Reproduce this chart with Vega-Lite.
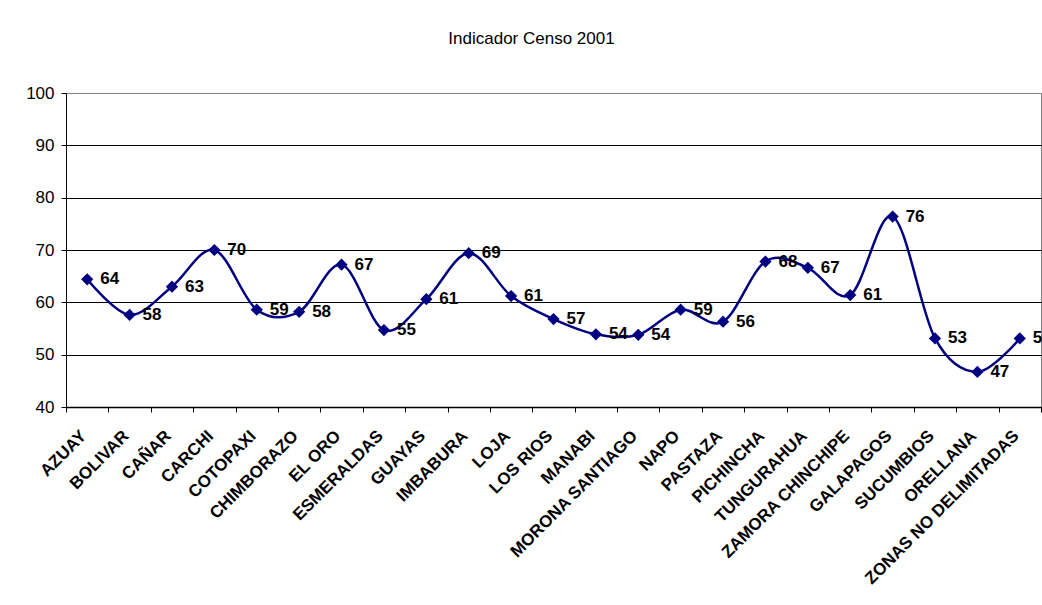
{
  "$schema": "https://vega.github.io/schema/vega-lite/v6.json",
  "width": 975,
  "height": 314,
  "autosize": {"type": "none"},
  "padding": {"left": 66, "top": 93, "right": 1, "bottom": 198},
  "background": "white",
  "config": {
    "font": "Liberation Sans",
    "view": {"stroke": "#808080", "strokeWidth": 1}
  },
  "title": {
    "text": "Indicador Censo 2001",
    "font": "Liberation Sans",
    "fontSize": 17,
    "fontWeight": "normal",
    "color": "black",
    "anchor": "middle",
    "frame": "group",
    "baseline": "alphabetic",
    "offset": 23,
    "dx": -22
  },
  "data": {
    "values": [
      {"provincia": "AZUAY", "indicador": 64.4},
      {"provincia": "BOLIVAR", "indicador": 57.6},
      {"provincia": "CAÑAR", "indicador": 63.0},
      {"provincia": "CARCHI", "indicador": 70.0},
      {"provincia": "COTOPAXI", "indicador": 58.6},
      {"provincia": "CHIMBORAZO", "indicador": 58.2},
      {"provincia": "EL ORO", "indicador": 67.2},
      {"provincia": "ESMERALDAS", "indicador": 54.7},
      {"provincia": "GUAYAS", "indicador": 60.6},
      {"provincia": "IMBABURA", "indicador": 69.4},
      {"provincia": "LOJA", "indicador": 61.2},
      {"provincia": "LOS RIOS", "indicador": 56.8},
      {"provincia": "MANABI", "indicador": 53.9},
      {"provincia": "MORONA SANTIAGO", "indicador": 53.8},
      {"provincia": "NAPO", "indicador": 58.6},
      {"provincia": "PASTAZA", "indicador": 56.3},
      {"provincia": "PICHINCHA", "indicador": 67.8},
      {"provincia": "TUNGURAHUA", "indicador": 66.6},
      {"provincia": "ZAMORA CHINCHIPE", "indicador": 61.4},
      {"provincia": "GALAPAGOS", "indicador": 76.4},
      {"provincia": "SUCUMBIOS", "indicador": 53.1},
      {"provincia": "ORELLANA", "indicador": 46.7},
      {"provincia": "ZONAS NO DELIMITADAS", "indicador": 53.1}
    ]
  },
  "encoding": {
    "x": {
      "field": "provincia",
      "type": "nominal",
      "sort": null,
      "scale": {"type": "band", "paddingInner": 0, "paddingOuter": 0},
      "axis": {
        "title": null,
        "grid": false,
        "labelAngle": -45,
        "labelAlign": "right",
        "labelBaseline": "middle",
        "labelFont": "Liberation Sans",
        "labelFontSize": 17,
        "labelFontWeight": "bold",
        "labelColor": "black",
        "labelPadding": 21,
        "labelOffset": -4,
        "labelLimit": 0,
        "labelOverlap": false,
        "labelBound": false,
        "tickBand": "extent",
        "tickSize": 5,
        "tickColor": "black",
        "domainColor": "black",
        "domainWidth": 1.5
      }
    },
    "y": {
      "field": "indicador",
      "type": "quantitative",
      "scale": {"domain": [40, 100], "nice": false, "zero": false},
      "axis": {
        "title": null,
        "values": [40, 50, 60, 70, 80, 90, 100],
        "grid": true,
        "gridColor": {"condition": {"test": "datum.value == 100", "value": "#808080"}, "value": "black"},
        "gridWidth": 1,
        "domainColor": "black",
        "tickColor": "black",
        "tickSize": 5,
        "labelFont": "Liberation Sans",
        "labelFontSize": 17,
        "labelColor": "black",
        "labelPadding": 7
      }
    }
  },
  "layer": [
    {
      "mark": {"type": "line", "interpolate": "cardinal", "tension": 0, "color": "#000080", "strokeWidth": 2.5}
    },
    {
      "mark": {"type": "point", "shape": "diamond", "filled": true, "size": 150, "color": "#000080", "opacity": 1}
    },
    {
      "mark": {"type": "text", "align": "left", "baseline": "middle", "dx": 13, "font": "Liberation Sans", "fontSize": 17, "fontWeight": "bold", "color": "black"},
      "encoding": {"text": {"field": "indicador", "type": "quantitative", "format": ".0f"}}
    }
  ]
}
